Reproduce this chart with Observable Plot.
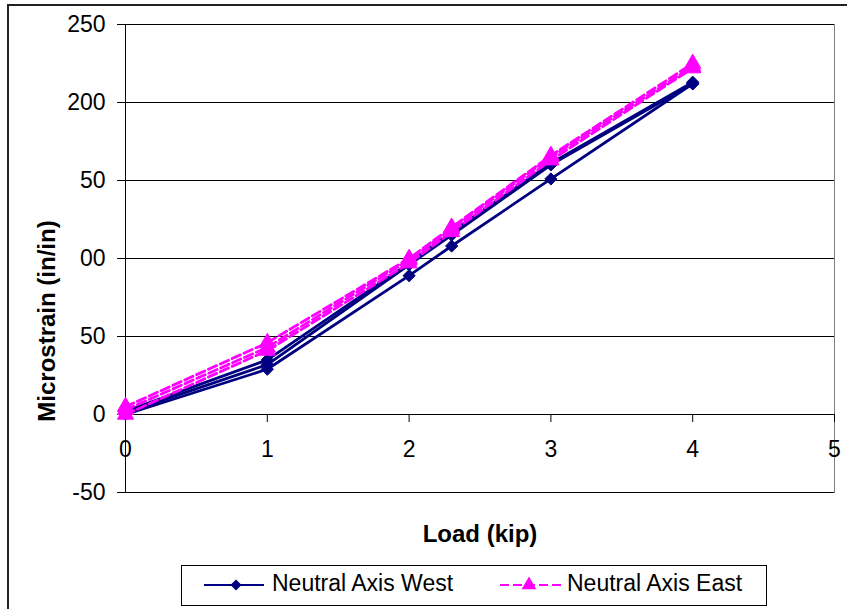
<!DOCTYPE html>
<html><head><meta charset="utf-8">
<script src="https://cdn.jsdelivr.net/npm/d3@7"></script>
<script src="https://cdn.jsdelivr.net/npm/@observablehq/plot@0.6"></script>
<style>
html,body{margin:0;padding:0;background:#fff;}
#chart{position:relative;width:847px;height:609px;overflow:hidden;}
</style></head><body><div id="chart"></div>
<script>
// ---- data ----
const loads = [0, 1, 2, 2.3, 3, 4];
const westRun1 = [0, 29, 89, 108, 151, 212];
const westRun2 = [1, 32, 96, 115, 160, 212];
const westRun3 = [2, 35, 97, 117, 161, 213];
const eastRun1 = [0, 41, 97, 117, 163, 222];
const eastRun2 = [3, 43, 99, 119, 165, 223];
const eastRun3 = [5, 46, 100, 120, 166, 225];
const seriesNames = ["Neutral Axis West", "Neutral Axis East"];
const xTicks = [0, 1, 2, 3, 4, 5];
const yTicks = [-50, 0, 50, 100, 150, 200, 250];
const yTickLabels = ["-50", "0", "50", "00", "50", "200", "250"];
const xTitle = "Load (kip)";
const yTitle = "Microstrain (in/in)";

const navy = "#000080", magenta = "#FF00FF";
const font = "'Liberation Sans', Arial, sans-serif";

function runRows(series, run, vals) {
  return loads.map((l, i) => ({series, run, load: l, strain: vals[i]}));
}
const west = [
  ...runRows(seriesNames[0], "W1", westRun1),
  ...runRows(seriesNames[0], "W2", westRun2),
  ...runRows(seriesNames[0], "W3", westRun3)
];
const east = [
  ...runRows(seriesNames[1], "E1", eastRun1),
  ...runRows(seriesNames[1], "E2", eastRun2),
  ...runRows(seriesNames[1], "E3", eastRun3)
];
const labelMap = new Map(yTicks.map((v, i) => [v, yTickLabels[i]]));

const W = 847, H = 609, mL = 125, mR = 13, mT = 24, mB = 117;
const yDom = [-50, 250];
const innerH = H - mT - mB;
const xAxisShift = (0 - yDom[0]) / (yDom[1] - yDom[0]) * innerH;

const chart = Plot.plot({
  width: W, height: H,
  marginLeft: mL, marginRight: mR, marginTop: mT, marginBottom: mB,
  style: {fontFamily: font, fontSize: "23px", background: "white", color: "black", overflow: "hidden"},
  x: {domain: [0, 5]},
  y: {domain: yDom},
  marks: [
    Plot.frame({stroke: "#808080"}),
    Plot.gridY(yTicks, {stroke: "black", strokeOpacity: 1}),
    Plot.ruleX([0], {stroke: "black"}),
    Plot.ruleY([0], {stroke: "black"}),
    Plot.axisY({ticks: yTicks, tickFormat: d => labelMap.get(d), tickSize: 8, tickPadding: 12, fontSize: 23, label: null}),
    Plot.axisX({ticks: xTicks, anchor: "bottom", dy: -xAxisShift, tickSize: 8, tickPadding: 18, fontSize: 23, label: null, tickFormat: d => String(d)}),
    Plot.line(west, {x: "load", y: "strain", z: "run", stroke: navy, strokeWidth: 2.8}),
    Plot.dot(west, {x: "load", y: "strain", symbol: "diamond2", r: 5.5, fill: navy, stroke: navy, strokeWidth: 1}),
    Plot.line(east, {x: "load", y: "strain", z: "run", stroke: magenta, strokeWidth: 2.8, strokeDasharray: "9,4"}),
    Plot.dot(east, {x: "load", y: "strain", symbol: "triangle", r: 6, fill: magenta, stroke: magenta, strokeWidth: 1})
  ]
});
document.getElementById("chart").appendChild(chart);

const svg = d3.select(chart);
// outer chart-area border
svg.append("rect").attr("x", 8).attr("y", 5).attr("width", 1000).attr("height", 1000)
  .attr("fill", "none").attr("stroke", "#222").attr("stroke-width", 2);

// axis titles
svg.append("text").attr("x", 480).attr("y", 536).attr("text-anchor", "middle")
  .attr("dominant-baseline", "middle").attr("font-family", font).attr("font-weight", "bold")
  .attr("font-size", 24).text(xTitle);
svg.append("text").attr("transform", "translate(49,321) rotate(-90)").attr("text-anchor", "middle")
  .attr("dominant-baseline", "middle").attr("font-family", font).attr("font-weight", "bold")
  .attr("font-size", 24).text(yTitle);

// legend
const lg = svg.append("g").attr("font-family", font).attr("font-size", 23).attr("text-anchor", "start");
lg.append("rect").attr("x", 181.5).attr("y", 565.5).attr("width", 585).attr("height", 40)
  .attr("fill", "white").attr("stroke", "#000").attr("stroke-width", 1);
const ly = 585;
lg.append("line").attr("x1", 204).attr("x2", 264).attr("y1", ly).attr("y2", ly)
  .attr("stroke", navy).attr("stroke-width", 2);
lg.append("path").attr("d", d3.symbol(d3.symbolDiamond2, Math.PI * 25)()).attr("transform", `translate(236,${ly})`)
  .attr("fill", navy);
lg.append("text").attr("x", 272).attr("y", ly).attr("dominant-baseline", "middle").attr("text-anchor", "start").text(seriesNames[0]);
lg.append("line").attr("x1", 500).attr("x2", 561).attr("y1", ly).attr("y2", ly)
  .attr("stroke", magenta).attr("stroke-width", 2).attr("stroke-dasharray", "9,4");
lg.append("path").attr("d", d3.symbol(d3.symbolTriangle, Math.PI * 30)()).attr("transform", `translate(529,${ly})`)
  .attr("fill", magenta);
lg.append("text").attr("x", 567).attr("y", ly).attr("dominant-baseline", "middle").attr("text-anchor", "start").text(seriesNames[1]);
</script></body></html>
